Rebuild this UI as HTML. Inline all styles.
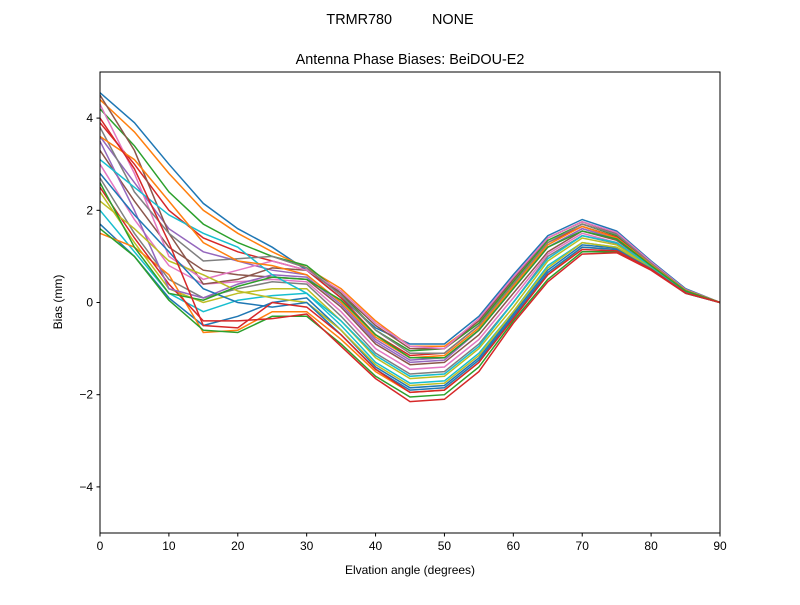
<!DOCTYPE html>
<html><head><meta charset="utf-8"><style>
body{margin:0;background:#fff;}
svg text{font-family:"Liberation Sans","DejaVu Sans",sans-serif;fill:#000;}
</style></head><body>
<svg id="chart" width="800" height="600" xmlns="http://www.w3.org/2000/svg">
<rect width="800" height="600" fill="#fff"/>
<text x="400" y="24" font-size="14.4" text-anchor="middle" xml:space="preserve">TRMR780          NONE</text>
<text x="410" y="64" font-size="14.4" text-anchor="middle">Antenna Phase Biases: BeiDOU-E2</text>
<g id="plot"></g>
<g id="axes"></g>
<text x="410" y="574" font-size="12" text-anchor="middle">Elvation angle (degrees)</text>
<text x="62" y="302" font-size="12" text-anchor="middle" transform="rotate(-90 62 302)">Bias (mm)</text>
</svg>
<script>
const elevations=[0,5,10,15,20,25,30,35,40,45,50,55,60,65,70,75,80,85,90];
const xTicks=[0,10,20,30,40,50,60,70,80,90];
const yTicks=[-4,-2,0,2,4];
const yTickLabels=["\u22124","\u22122","0","2","4"];
const s1=[4.55,3.9,3.0,2.15,1.6,1.2,0.7,0.1,-0.55,-0.9,-0.9,-0.3,0.6,1.45,1.8,1.55,0.9,0.3,0];
const s2=[4.4,3.7,2.8,2.0,1.5,1.1,0.75,0.3,-0.4,-0.95,-0.95,-0.4,0.5,1.4,1.75,1.5,0.85,0.28,0];
const s3=[4.2,3.4,2.4,1.7,1.3,1.0,0.8,0.2,-0.6,-1.05,-1.0,-0.45,0.45,1.35,1.7,1.45,0.85,0.27,0];
const s4=[3.9,3.0,2.0,1.4,1.1,0.9,0.7,0.1,-0.7,-1.15,-1.1,-0.5,0.4,1.3,1.65,1.42,0.82,0.26,0];
const s5=[3.6,2.6,1.6,1.1,0.9,0.7,0.6,0.0,-0.8,-1.25,-1.2,-0.6,0.3,1.2,1.6,1.38,0.8,0.25,0];
const s6=[3.3,2.2,1.2,0.7,0.6,0.55,0.5,-0.1,-0.9,-1.35,-1.3,-0.7,0.2,1.1,1.55,1.35,0.8,0.25,0];
const s7=[3.0,1.8,0.8,0.4,0.45,0.5,0.45,-0.2,-1.0,-1.45,-1.4,-0.8,0.1,1.05,1.5,1.3,0.78,0.24,0];
const s8=[2.7,1.5,0.5,0.1,0.3,0.45,0.4,-0.3,-1.1,-1.55,-1.5,-0.9,0.0,1.0,1.45,1.28,0.78,0.24,0];
const s9=[2.4,1.3,0.3,0.0,0.2,0.3,0.3,-0.4,-1.2,-1.65,-1.6,-1.0,-0.1,0.9,1.4,1.25,0.76,0.23,0];
const s10=[2.0,1.1,0.2,-0.2,0.05,0.15,0.2,-0.5,-1.3,-1.75,-1.7,-1.1,-0.2,0.8,1.3,1.2,0.75,0.22,0];
const s11=[1.7,1.0,0.1,-0.5,-0.3,0.0,0.1,-0.6,-1.4,-1.85,-1.8,-1.2,-0.25,0.7,1.25,1.18,0.74,0.22,0];
const s12=[1.5,1.2,0.6,-0.65,-0.6,-0.2,-0.2,-0.8,-1.5,-1.95,-1.9,-1.3,-0.3,0.6,1.2,1.15,0.73,0.21,0];
const s13=[1.6,1.0,0.05,-0.6,-0.65,-0.3,-0.3,-0.9,-1.6,-2.05,-2.0,-1.4,-0.4,0.5,1.1,1.1,0.72,0.2,0];
const s14=[2.5,1.4,0.4,-0.4,-0.4,-0.35,-0.25,-0.95,-1.65,-2.15,-2.1,-1.5,-0.45,0.45,1.05,1.08,0.7,0.2,0];
const s15=[3.5,2.0,0.3,0.1,0.4,0.6,0.55,-0.05,-0.85,-1.3,-1.25,-0.6,0.3,1.2,1.6,1.4,0.8,0.25,0];
const s16=[4.5,3.3,1.5,0.4,0.5,0.75,0.7,0.2,-0.5,-1.0,-1.0,-0.4,0.5,1.4,1.75,1.5,0.85,0.28,0];
const s17=[4.3,2.8,1.0,0.5,0.7,0.9,0.7,0.25,-0.45,-0.95,-1.0,-0.35,0.55,1.4,1.75,1.52,0.88,0.28,0];
const s18=[3.8,2.4,1.5,0.9,0.95,1.0,0.75,0.15,-0.6,-1.1,-1.1,-0.5,0.4,1.3,1.7,1.48,0.85,0.27,0];
const s19=[2.2,1.6,0.9,0.6,0.25,0.1,0.0,-0.6,-1.35,-1.8,-1.75,-1.15,-0.2,0.75,1.3,1.2,0.75,0.22,0];
const s20=[3.1,2.5,1.9,1.5,1.2,0.6,0.2,-0.4,-1.15,-1.6,-1.55,-0.95,0.0,0.95,1.45,1.3,0.78,0.24,0];
const s21=[2.8,1.9,1.1,0.3,0.0,-0.1,0.0,-0.7,-1.45,-1.9,-1.85,-1.25,-0.3,0.65,1.2,1.15,0.73,0.21,0];
const s22=[3.6,3.1,2.2,1.3,0.9,0.8,0.6,0.0,-0.75,-1.2,-1.15,-0.55,0.35,1.25,1.65,1.4,0.82,0.26,0];
const s23=[2.6,1.2,0.2,0.05,0.35,0.55,0.5,0.05,-0.7,-1.2,-1.2,-0.6,0.3,1.2,1.55,1.38,0.8,0.25,0];
const s24=[4.0,2.9,1.3,-0.5,-0.55,0.0,-0.1,-0.7,-1.45,-1.95,-1.9,-1.3,-0.35,0.6,1.15,1.12,0.72,0.21,0];
const series=[s1,s2,s3,s4,s5,s6,s7,s8,s9,s10,s11,s12,s13,s14,s15,s16,s17,s18,s19,s20,s21,s22,s23,s24];
const colors=["#1f77b4","#ff7f0e","#2ca02c","#d62728","#9467bd","#8c564b","#e377c2","#7f7f7f","#bcbd22","#17becf"];
const L=100,R=720,T=72,B=533,xmin=0,xmax=90,ymin=-5,ymax=5;
const xs=v=>L+(v-xmin)/(xmax-xmin)*(R-L);
const ys=v=>B-(v-ymin)/(ymax-ymin)*(B-T);
const NS="http://www.w3.org/2000/svg";
const plot=document.getElementById('plot'),axes=document.getElementById('axes');
function mk(t,a,p){const e=document.createElementNS(NS,t);for(const k in a)e.setAttribute(k,a[k]);p.appendChild(e);return e;}
series.forEach((s,i)=>{
 const d=s.map((v,j)=>(j?'L':'M')+xs(elevations[j]).toFixed(1)+','+ys(v).toFixed(1)).join(' ');
 const p=mk('path',{d:d,fill:'none',stroke:colors[i%10],'stroke-width':1.5},plot);
 
 
});
const fr=mk('rect',{x:L,y:T,width:R-L,height:B-T,fill:'none',stroke:'#000','stroke-width':1},axes);


xTicks.forEach(v=>{
 const x=xs(v);
 const t=mk('line',{x1:x,x2:x,y1:B,y2:B+3.5,stroke:'#000'},axes);
 
 
 const l=mk('text',{x:x,y:B+17,'font-size':12,'text-anchor':'middle'},axes);l.textContent=v;
 
 
});
yTicks.forEach((v,i)=>{
 const y=ys(v);
 const t=mk('line',{x1:L-3.5,x2:L,y1:y,y2:y,stroke:'#000'},axes);
 
 
 const l=mk('text',{x:L-7,y:y+4,'font-size':12,'text-anchor':'end'},axes);l.textContent=yTickLabels[i];
 
 
});
</script>
</body></html>
